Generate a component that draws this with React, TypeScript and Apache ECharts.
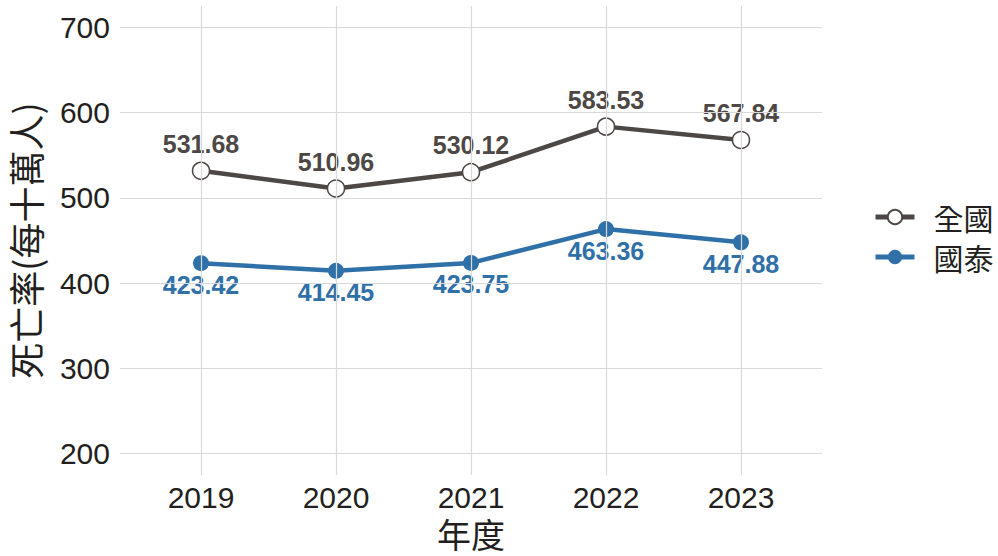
import React, { useEffect, useRef } from "react";
import * as echarts from "echarts";

const years = [2019, 2020, 2021, 2022, 2023];
const nationalRate = [531.68, 510.96, 530.12, 583.53, 567.84];
const cathayRate = [423.42, 414.45, 423.75, 463.36, 447.88];
const yTicks = [200, 300, 400, 500, 600, 700];
const seriesNames = ["全國", "國泰"];

const GRAY = "#4D4745";
const BLUE = "#3070A8";
const TEXT = "#231F20";
const GRID = "#D9D9D9";
const FONT = "'Liberation Sans', 'Noto Sans CJK TC', sans-serif";
const CJK = "'Noto Sans CJK TC', sans-serif";

export default function App() {
  const ref = useRef<HTMLDivElement>(null);
  useEffect(() => {
    if (!ref.current) return;
    const chart = echarts.init(ref.current, null, { renderer: "svg" });
    chart.setOption({
      animation: false,
      backgroundColor: "#ffffff",
      textStyle: { fontFamily: FONT },
      grid: {
        left: 120,
        right: 176,
        top: 6,
        bottom: 81,
        containLabel: false,
        outerBoundsMode: "none",
      },
      legend: {
        orient: "vertical",
        left: 873,
        top: 202,
        padding: 0,
        itemWidth: 39,
        itemHeight: 18,
        itemGap: 10,
        lineStyle: { width: 5 },
        textStyle: { fontSize: 30, color: TEXT, fontFamily: CJK, padding: [0, 0, 0, 14] },
        data: seriesNames,
      },
      xAxis: {
        type: "value",
        min: 2018.4,
        max: 2023.6,
        name: "年度",
        nameLocation: "middle",
        nameGap: 35,
        nameTextStyle: { fontSize: 34, lineHeight: 30, color: TEXT, fontFamily: CJK },
        axisLine: { show: false },
        axisTick: { show: false },
        splitLine: { show: false },
        axisLabel: {
          customValues: years,
          fontSize: 30,
          color: TEXT,
          margin: 7,
          formatter: (v: number) => String(v),
        },
      },
      yAxis: {
        type: "value",
        min: 175,
        max: 725,
        name: "死亡率(每十萬人)",
        nameLocation: "middle",
        nameGap: 77,
        nameRotate: 90,
        nameTextStyle: { fontSize: 36, color: TEXT, fontFamily: CJK },
        axisLine: { show: false },
        axisTick: { show: false },
        splitLine: { show: false },
        axisLabel: {
          customValues: yTicks,
          fontSize: 30,
          color: TEXT,
          margin: 10,
          formatter: (v: number) => String(v),
        },
      },
      series: [
        {
          type: "line",
          name: "grid",
          data: [],
          z: 1,
          silent: true,
          markLine: {
            silent: true,
            symbol: ["none", "none"],
            label: { show: false },
            emphasis: { disabled: true },
            lineStyle: { type: "solid", color: GRID, width: 1.2 },
            data: [
              ...years.map((y) => ({ xAxis: y })),
              ...yTicks.map((t) => ({ yAxis: t })),
            ],
          },
        },
        {
          type: "line",
          name: seriesNames[0],
          data: years.map((y, i) => [y, nationalRate[i]]),
          z: 3,
          symbol: "circle",
          symbolSize: 17,
          lineStyle: { color: GRAY, width: 4.5 },
          itemStyle: { color: "#ffffff", borderColor: GRAY, borderWidth: 1.5 },
          label: {
            show: true,
            position: "top",
            distance: 5,
            fontSize: 25,
            fontWeight: "bold",
            color: GRAY,
            fontFamily: FONT,
            formatter: (p: any) => p.value[1].toFixed(2),
          },
        },
        {
          type: "line",
          name: seriesNames[1],
          data: years.map((y, i) => [y, cathayRate[i]]),
          z: 3,
          symbol: "circle",
          symbolSize: 16,
          lineStyle: { color: BLUE, width: 4.5 },
          itemStyle: { color: BLUE, borderColor: BLUE, borderWidth: 0 },
          label: {
            show: true,
            position: "bottom",
            distance: 1,
            fontSize: 25,
            fontWeight: "bold",
            color: BLUE,
            fontFamily: FONT,
            formatter: (p: any) => p.value[1].toFixed(2),
          },
        },
      ],
    });
    return () => chart.dispose();
  }, []);
  return <div ref={ref} style={{ width: 998, height: 556, position: "absolute", left: 0, top: 0 }} />;
}
